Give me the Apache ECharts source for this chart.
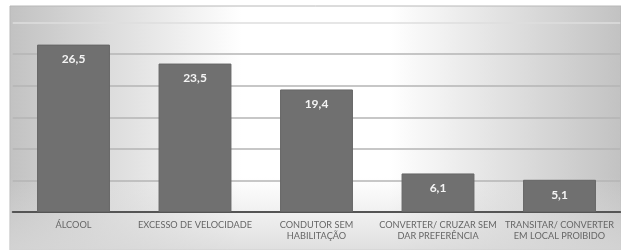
<!DOCTYPE html>
<html>
<head>
<meta charset="utf-8">
<script src="https://cdn.jsdelivr.net/npm/echarts@6/dist/echarts.min.js"></script>
<style>
  html, body { margin: 0; padding: 0; background: #fff; }
  #chart { width: 621px; height: 250px; }
</style>
</head>
<body>
<div id="chart"></div>
<script>
// categorias (rótulos do eixo) e valores em %
const categorias = [
  "ÁLCOOL",
  "EXCESSO DE VELOCIDADE",
  "CONDUTOR SEM\nHABILITAÇÃO",
  "CONVERTER/ CRUZAR SEM\nDAR PREFERÊNCIA",
  "TRANSITAR/ CONVERTER\nEM LOCAL PROIBIDO"
];
const valores = [26.5, 23.5, 19.4, 6.1, 5.1];
const tituloCortado = "Acidentes, de (%), com tráfego intenso";

let myChart = echarts.init(document.getElementById("chart"), null, { renderer: "canvas" });

function gradH() {
  return new echarts.graphic.LinearGradient(0, 0, 1, 0, [
    { offset: 0, color: "#c2c2c2" },
    { offset: 0.38, color: "#ffffff" },
    { offset: 0.62, color: "#ffffff" },
    { offset: 1, color: "#c2c2c2" }
  ]);
}

let option = {
  animation: false,
  graphic: [
    {
      // painel de fundo com gradiente
      type: "rect",
      z: -10,
      shape: { x: 10, y: 6, width: 611, height: 244 },
      style: { fill: gradH(), stroke: "#b8b8b8", lineWidth: 1 }
    },
    {
      type: "rect",
      z: -9,
      shape: { x: 10, y: 6, width: 611, height: 244 },
      style: {
        fill: new echarts.graphic.LinearGradient(0, 0, 0, 1, [
          { offset: 0, color: "rgba(220,220,220,0)" },
          { offset: 0.7, color: "rgba(220,220,220,0)" },
          { offset: 1, color: "rgba(215,215,215,0.8)" }
        ])
      }
    },
    {
      // título cortado no topo da imagem: só o pé das letras aparece
      type: "text",
      x: -49,
      y: -23,
      z: 10,
      style: {
        text: tituloCortado,
        font: "34px 'Liberation Sans', Arial, sans-serif",
        fill: "#111",
        verticalAlign: "middle"
      }
    }
  ],
  grid: {
    left: 12.75,
    right: 0.75,
    top: 22.5,
    bottom: 38,
    containLabel: false
  },
  xAxis: {
    type: "category",
    data: categorias,
    axisTick: { show: false },
    axisLine: { lineStyle: { color: "#555555", width: 2 } },
    axisLabel: {
      interval: 0,
      margin: 8,
      color: "#666666",
      fontFamily: "Lato",
      fontSize: 9.2,
      lineHeight: 11
    }
  },
  yAxis: {
    type: "value",
    min: 0,
    max: 30,
    interval: 5,
    axisLabel: { show: false },
    axisLine: { show: false },
    axisTick: { show: false },
    splitLine: {
      lineStyle: {
        color: ["#b5b5b5", "#b5b5b5", "#b5b5b5", "#b5b5b5", "#b5b5b5", "#b5b5b5", "#dedede"],
        width: 1.5
      }
    }
  },
  series: [
    {
      type: "bar",
      data: valores,
      barWidth: "60%",
      itemStyle: { color: "#707070", borderColor: "#666666", borderWidth: 1 },
      label: {
        show: true,
        position: "insideTop",
        distance: 9,
        color: "#f4f4f4",
        fontFamily: "Lato",
        fontWeight: "bold",
        fontSize: 12,
        formatter: function (p) {
          return String(p.value).replace(".", ",");
        }
      }
    }
  ]
};
myChart.setOption(option);
</script>
</body>
</html>
